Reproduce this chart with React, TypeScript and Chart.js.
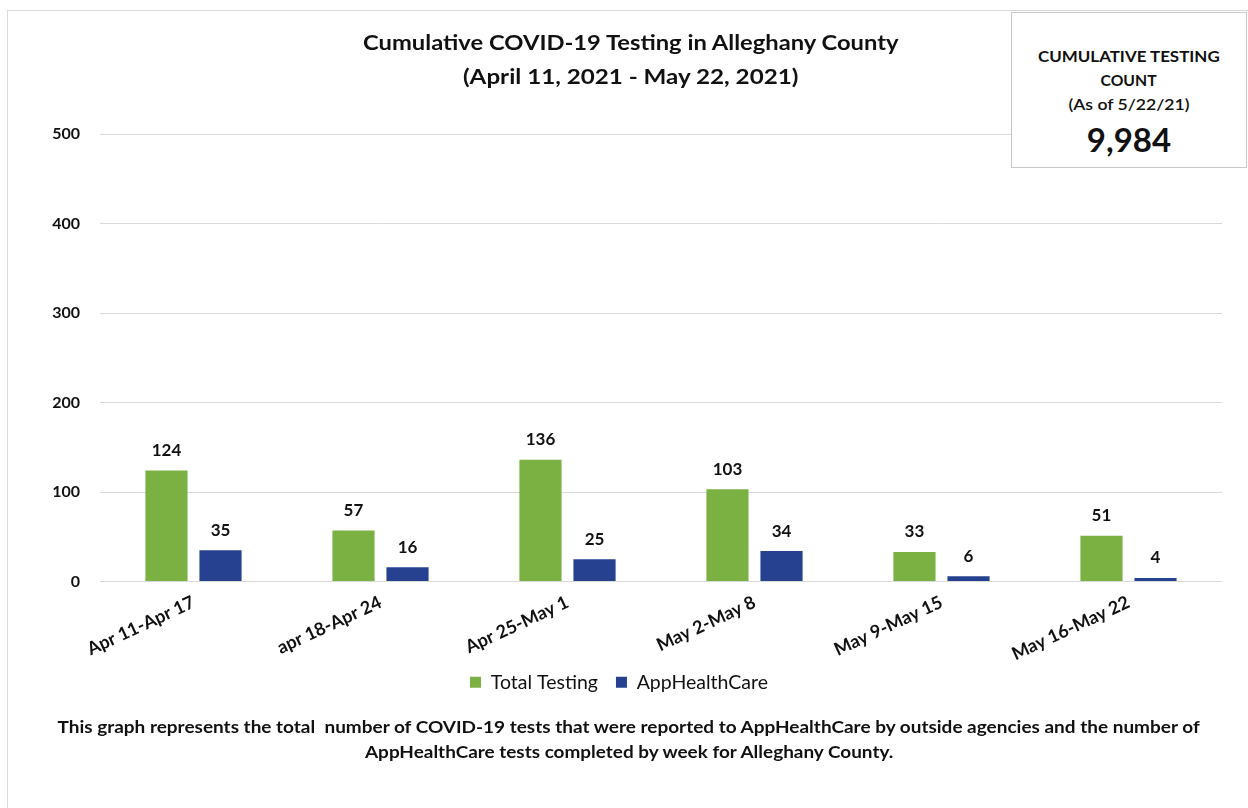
import React, { useEffect, useLayoutEffect, useRef } from "react";
import { Chart, registerables } from "chart.js";

Chart.register(...registerables);

const categories = ["Apr 11-Apr 17", "apr 18-Apr 24", "Apr 25-May 1", "May 2-May 8", "May 9-May 15", "May 16-May 22"];
const totalTesting = [124, 57, 136, 103, 33, 51];
const appHealthCare = [35, 16, 25, 34, 6, 4];
const yTicks = [0, 100, 200, 300, 400, 500];
const seriesNames = ["Total Testing", "AppHealthCare"];
const titleLines = ["Cumulative COVID-19 Testing in Alleghany County", "(April 11, 2021 - May 22, 2021)"];
const boxLines = ["CUMULATIVE TESTING", "COUNT", "(As of 5/22/21)"];
const boxValue = "9,984";
const footerLines = [
  "This graph represents the total  number of COVID-19 tests that were reported to AppHealthCare by outside agencies and the number of",
  "AppHealthCare tests completed by week for Alleghany County.",
];

const FONT = "Lato, 'Noto Sans', sans-serif";
const GREEN = "#7BB143";
const BLUE = "#26418F";
const TEXT = "#111111";

const valueLabels = {
  id: "valueLabels",
  afterDatasetsDraw(chart: any) {
    const ctx = chart.ctx;
    ctx.save();
    ctx.font = `bold 17px ${FONT}`;
    ctx.fillStyle = TEXT;
    ctx.textAlign = "center";
    ctx.textBaseline = "middle";
    chart.data.datasets.forEach((ds: any, i: number) => {
      const meta = chart.getDatasetMeta(i);
      meta.data.forEach((el: any, j: number) => {
        ctx.fillText(String(ds.data[j]), el.x, el.y - 20);
      });
    });
    ctx.restore();
  },
};

function FitText({ text, width, style }: { text: string; width: number; style: any }) {
  const ref = useRef<HTMLSpanElement>(null);
  useLayoutEffect(() => {
    const el = ref.current;
    if (!el) return;
    el.style.transform = "none";
    const w = el.offsetWidth;
    if (w > 0) el.style.transform = `scaleX(${width / w})`;
  }, [text, width]);
  return (
    <span
      ref={ref}
      style={{ display: "inline-block", whiteSpace: "pre", transformOrigin: "center center", ...style }}
    >
      {text}
    </span>
  );
}

export default function App() {
  const canvasRef = useRef<HTMLCanvasElement>(null);

  useEffect(() => {
    const canvas = canvasRef.current;
    if (!canvas) return;
    const chart = new Chart(canvas, {
      type: "bar",
      data: {
        labels: categories,
        datasets: [
          { label: seriesNames[0], data: totalTesting, backgroundColor: GREEN, borderWidth: 0 },
          { label: seriesNames[1], data: appHealthCare, backgroundColor: BLUE, borderWidth: 0 },
        ],
      },
      options: {
        animation: false,
        responsive: false,
        maintainAspectRatio: false,
        layout: { padding: { top: 134, left: 16, right: 26, bottom: 106 } },
        datasets: { bar: { categoryPercentage: 0.578, barPercentage: 0.78 } },
        scales: {
          x: {
            grid: { display: false },
            border: { display: false },
            ticks: {
              minRotation: 25,
              maxRotation: 25,
              padding: 2,
              color: TEXT,
              font: { family: FONT, size: 18, weight: "bold" },
            },
            afterFit(scale: any) {
              scale.height = 73;
              scale._computeLabelArea = () => undefined;
            },
          },
          y: {
            min: 0,
            max: 500,
            afterBuildTicks(scale: any) {
              scale.ticks = yTicks.map((v) => ({ value: v }));
            },
            grid: { color: "#d9d9d9", drawTicks: false, lineWidth: 1 },
            border: { display: false },
            ticks: {
              padding: 20,
              color: TEXT,
              font: { family: FONT, size: 16, weight: "bold" },
            },
            afterFit(scale: any) {
              scale.width = 84;
            },
          },
        },
        plugins: {
          legend: {
            position: "bottom",
            labels: {
              boxWidth: 11,
              boxHeight: 11,
              padding: 18,
              color: TEXT,
              font: { family: FONT, size: 19.5 },
            },
          },
          title: { display: false },
          tooltip: { enabled: false },
        },
      },
      plugins: [valueLabels],
    });
    return () => chart.destroy();
  }, []);

  return (
    <div style={{ position: "absolute", left: 0, top: 0, width: 1248, height: 808, background: "#fff", overflow: "hidden", fontFamily: FONT, color: TEXT }}>
      <div style={{ position: "absolute", left: 7, top: 10, width: 1300, height: 900, border: "1px solid #d9d9d9" }} />
      <canvas ref={canvasRef} width={1248} height={808} style={{ position: "absolute", left: 0, top: 0 }} />
      <div style={{ position: "absolute", left: 0, width: 1262, top: 26, textAlign: "center", lineHeight: "32px" }}>
        <div><FitText text={titleLines[0]} width={536} style={{ fontSize: 21, fontWeight: "bold" }} /></div>
        <div><FitText text={titleLines[1]} width={335} style={{ fontSize: 21, fontWeight: "bold" }} /></div>
      </div>
      <div style={{ position: "absolute", left: 1011, top: 12, width: 236, height: 156, border: "1px solid #c8c8c8", background: "#fff", boxSizing: "border-box", textAlign: "center" }}>
        <div style={{ position: "absolute", left: 0, right: 0, top: 31, fontSize: 16, fontWeight: "bold", lineHeight: "24px" }}>
          <div><FitText text={boxLines[0]} width={182} style={{}} /></div>
          <div><FitText text={boxLines[1]} width={56} style={{}} /></div>
          <div><FitText text={boxLines[2]} width={121} style={{ fontWeight: 600 }} /></div>
        </div>
        <div style={{ position: "absolute", left: 0, right: 0, top: 104, fontSize: 33, fontWeight: "bold", lineHeight: "44px" }}>{boxValue}</div>
      </div>
      <div style={{ position: "absolute", left: 0, width: 1258, top: 714, textAlign: "center", lineHeight: "25px" }}>
        <div><FitText text={footerLines[0]} width={1142} style={{ fontSize: 17, fontWeight: "bold" }} /></div>
        <div><FitText text={footerLines[1]} width={528} style={{ fontSize: 17, fontWeight: "bold" }} /></div>
      </div>
    </div>
  );
}
